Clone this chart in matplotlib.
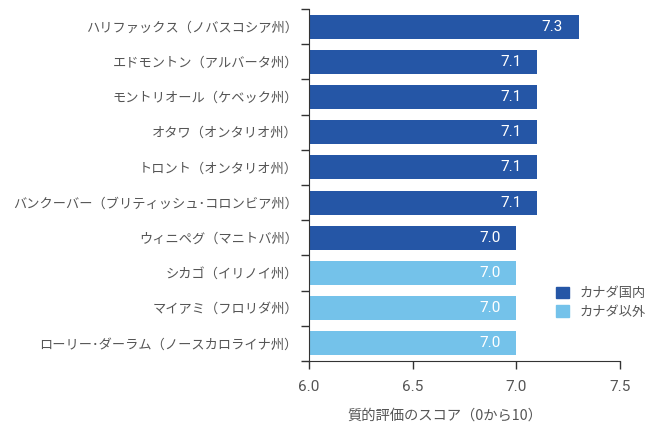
import matplotlib.pyplot as plt
from matplotlib.patches import Patch
from matplotlib.ticker import FixedLocator

plt.rcParams['font.family'] = ['Noto Sans CJK JP', 'DejaVu Sans']

cities = [
    "ハリファックス（ノバスコシア州）",
    "エドモントン（アルバータ州）",
    "モントリオール（ケベック州）",
    "オタワ（オンタリオ州）",
    "トロント（オンタリオ州）",
    "バンクーバー（ブリティッシュ･コロンビア州）",
    "ウィニペグ（マニトバ州）",
    "シカゴ（イリノイ州）",
    "マイアミ（フロリダ州）",
    "ローリー･ダーラム（ノースカロライナ州）",
]
scores = [7.3, 7.1, 7.1, 7.1, 7.1, 7.1, 7.0, 7.0, 7.0, 7.0]
in_canada = [True, True, True, True, True, True, True, False, False, False]
x_ticks = [6.0, 6.5, 7.0, 7.5]
legend_labels = ["カナダ国内", "カナダ以外"]

DARK = "#2556a6"
LIGHT = "#74c2ea"
TEXT = "#555555"


def main():
    fig = plt.figure(figsize=(6.62, 4.28), dpi=100)
    ax = fig.add_axes([0.4668, 0.1565, 0.4698, 0.8224])

    pos = list(range(len(cities)))[::-1]
    colors = [DARK if c else LIGHT for c in in_canada]
    bars = ax.barh(pos, [s - 6.0 for s in scores], left=6.0, height=0.68,
                   color=colors)

    for b, s in zip(bars, scores):
        ax.text(b.get_x() + b.get_width() - 0.075, b.get_y() + b.get_height() / 2,
                f"{s:.1f}", color="white", ha="right", va="center",
                fontsize=11, family="Roboto")

    ax.set_xlim(6.0, 7.5)
    ax.set_ylim(-0.5, len(cities) - 0.5)
    ax.set_xticks(x_ticks)
    ax.set_xticklabels([f"{t:.1f}" for t in x_ticks], color=TEXT, fontsize=11,
                       family="Roboto")
    ax.set_yticks(pos)
    ax.set_yticklabels(cities, color=TEXT, fontsize=9.5)
    ax.tick_params(axis='y', which='major', length=0, pad=8)
    ax.yaxis.set_minor_locator(FixedLocator([p - 0.5 for p in range(len(cities) + 1)]))
    ax.tick_params(axis='y', which='minor', length=6, width=1, color="#333333")
    ax.tick_params(axis='x', length=6, width=1, color="#333333", pad=8)
    ax.set_xlabel("質的評価のスコア（0から10）", color=TEXT, fontsize=10.3)
    ax.xaxis.set_label_coords(0.437, -0.135)

    for side in ["top", "right"]:
        ax.spines[side].set_visible(False)
    for side in ["left", "bottom"]:
        ax.spines[side].set_color("#333333")

    handles = [Patch(color=DARK), Patch(color=LIGHT)]
    ax.legend(handles, legend_labels, loc="upper left", bbox_to_anchor=(0.755, 0.245),
              frameon=False, fontsize=9.5, labelcolor=TEXT, handlelength=1.0,
              handleheight=1.0, handletextpad=0.8, labelspacing=0.4)

    fig.savefig("out.png", dpi=100)


if __name__ == "__main__":
    main()
